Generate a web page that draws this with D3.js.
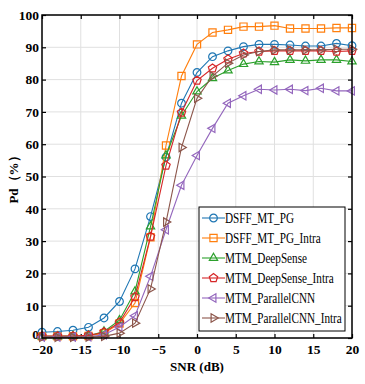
<!DOCTYPE html>
<html lang="en">
<head>
<meta charset="utf-8">
<title>Pd vs SNR</title>
<script src="https://d3js.org/d3.v7.min.js"></script>
<style type="text/css">
  body { margin: 0; background: white; }
  .tick text { font-family: "Liberation Serif", "Times New Roman", serif; font-weight: bold; font-size: 13.5px; fill: black; }
  .axisLabel { font-family: "Liberation Serif", "Times New Roman", serif; font-weight: bold; font-size: 13px; }
  .legendText { font-family: "Liberation Serif", "Times New Roman", serif; font-size: 14px; }
</style>
</head>
<body>
<svg></svg>
<script type="text/javascript">

const snr = [-20, -18, -16, -14, -12, -10, -8, -6, -4, -2, 0, 2, 4, 6, 8, 10, 12, 14, 16, 18, 20];

const dsffMtPg      = [1.8, 2.0, 2.4, 3.3, 6.2, 11.3, 21.4, 37.6, 56.0, 72.7, 82.2, 87.1, 88.9, 90.2, 90.9, 90.9, 90.7, 90.4, 90.4, 91.2, 90.5];
const dsffMtPgIntra = [0.5, 0.5, 0.5, 0.6, 1.5, 4.5, 10.8, 31.2, 59.6, 81.1, 90.9, 94.6, 95.4, 96.4, 96.4, 96.7, 95.8, 95.8, 95.8, 96.0, 96.0];
const mtmDeepSense  = [0.5, 0.5, 0.6, 0.7, 2.0, 5.5, 14.4, 34.5, 56.5, 68.8, 76.3, 80.4, 82.8, 84.8, 85.6, 85.4, 86.1, 85.8, 86.1, 86.1, 85.6];
const mtmDeepSenseIntra = [0.6, 0.6, 0.6, 0.8, 1.8, 4.8, 12.7, 31.4, 53.4, 69.8, 79.7, 83.5, 86.3, 88.1, 88.7, 88.9, 88.9, 88.9, 88.9, 88.7, 88.9];
const mtmParallelCnn = [0.3, 0.3, 0.3, 0.4, 1.0, 3.4, 6.9, 19.1, 33.5, 47.3, 56.5, 64.9, 72.7, 75.0, 77.0, 76.8, 77.0, 76.6, 77.3, 76.5, 76.5];
const mtmParallelCnnIntra = [0.2, 0.2, 0.2, 0.3, 0.5, 1.5, 4.6, 15.2, 35.9, 59.0, 74.2, 81.1, 85.1, 87.6, 88.7, 89.2, 89.2, 89.2, 89.2, 89.4, 89.4];

const seriesNames = ["DSFF_MT_PG", "DSFF_MT_PG_Intra", "MTM_DeepSense", "MTM_DeepSense_Intra", "MTM_ParallelCNN", "MTM_ParallelCNN_Intra"];
const xTicks = [-20, -15, -10, -5, 0, 5, 10, 15, 20];
const yTicks = [0, 10, 20, 30, 40, 50, 60, 70, 80, 90, 100];

const series = [
  {name: seriesNames[0], values: dsffMtPg, color: "#1f77b4", marker: "circle"},
  {name: seriesNames[1], values: dsffMtPgIntra, color: "#ff7f0e", marker: "square"},
  {name: seriesNames[2], values: mtmDeepSense, color: "#2ca02c", marker: "triUp"},
  {name: seriesNames[3], values: mtmDeepSenseIntra, color: "#d62728", marker: "pentagon"},
  {name: seriesNames[4], values: mtmParallelCnn, color: "#9467bd", marker: "triLeft"},
  {name: seriesNames[5], values: mtmParallelCnnIntra, color: "#8c564b", marker: "triRight"}
];

const width = 365, height = 384;
const margin = {top: 15, right: 13, bottom: 46, left: 42};
const w = width - margin.left - margin.right;
const h = height - margin.top - margin.bottom;

const svg = d3.select("svg").attr("width", width).attr("height", height);
const g = svg.append("g").attr("transform", "translate(" + margin.left + "," + margin.top + ")");

const x = d3.scaleLinear().domain([-20, 20]).range([0, w]);
const y = d3.scaleLinear().domain([0, 100]).range([h, 0]);

// grid
g.selectAll(".vgrid").data(xTicks).enter().append("line")
  .attr("x1", d => x(d)).attr("x2", d => x(d)).attr("y1", 0).attr("y2", h)
  .attr("stroke", "#e0e0e0").attr("stroke-width", 1);
g.selectAll(".hgrid").data(yTicks).enter().append("line")
  .attr("x1", 0).attr("x2", w).attr("y1", d => y(d)).attr("y2", d => y(d))
  .attr("stroke", "#e0e0e0").attr("stroke-width", 1);

// axes, inward ticks on all sides
g.append("g").attr("transform", "translate(0," + h + ")")
  .call(d3.axisBottom(x).tickValues(xTicks).tickSizeInner(-4).tickSizeOuter(0).tickPadding(6).tickFormat(d => d < 0 ? "\u2212" + Math.abs(d) : d));
g.append("g")
  .call(d3.axisLeft(y).tickValues(yTicks).tickSizeInner(-4).tickSizeOuter(0).tickPadding(3))
  .selectAll(".tick text").attr("dy", d => d === 0 ? "0.05em" : "0.32em");
g.append("g").call(d3.axisTop(x).tickValues(xTicks).tickSizeInner(-4).tickSizeOuter(0).tickFormat(""));
g.append("g").attr("transform", "translate(" + w + ",0)")
  .call(d3.axisRight(y).tickValues(yTicks).tickSizeInner(-4).tickSizeOuter(0).tickFormat(""));
g.selectAll(".domain").remove();
g.selectAll(".tick line").attr("stroke", "black").attr("stroke-width", 1.2);

const symbolPath = {
  circle: d3.symbol().type(d3.symbolCircle).size(46)(),
  square: d3.symbol().type(d3.symbolSquare).size(52)()
};
function polygon(n, r, rot) {
  const pts = d3.range(n).map(i => {
    const a = rot + i * 2 * Math.PI / n;
    return [r * Math.cos(a), r * Math.sin(a)];
  });
  return "M" + pts.join("L") + "Z";
}
symbolPath.pentagon = polygon(5, 4.4, -Math.PI / 2);
symbolPath.triLeft = polygon(3, 4.8, Math.PI);
symbolPath.triRight = polygon(3, 4.8, 0);
symbolPath.triUp = polygon(3, 4.8, -Math.PI / 2);

const line = d3.line().x((d, i) => x(snr[i])).y(d => y(d));

const plot = g.append("g");
series.forEach(s => {
  plot.append("path").datum(s.values)
    .attr("d", line).attr("fill", "none").attr("stroke", s.color).attr("stroke-width", 1.1);
  plot.selectAll(null).data(s.values).enter().append("path")
    .attr("d", symbolPath[s.marker])
    .attr("transform", (d, i) => "translate(" + x(snr[i]) + "," + y(d) + ")")
    .attr("fill", "none").attr("stroke", s.color).attr("stroke-width", 1.2);
});

// frame
g.append("rect").attr("width", w).attr("height", h)
  .attr("fill", "none").attr("stroke", "black").attr("stroke-width", 1.5);

// axis labels
svg.append("text").attr("class", "axisLabel")
  .attr("x", margin.left + w / 2).attr("y", 371).attr("text-anchor", "middle")
  .text("SNR (dB)");
svg.append("text").attr("class", "axisLabel")
  .attr("transform", "translate(18," + (margin.top + h / 2) + ") rotate(-90)")
  .attr("text-anchor", "middle")
  .text("Pd（%）");

// legend
const lg = svg.append("g").attr("transform", "translate(199,207)");
lg.append("rect").attr("width", 146).attr("height", 124)
  .attr("fill", "white").attr("stroke", "black").attr("stroke-width", 1);
const item = lg.selectAll(".item").data(series).enter().append("g")
  .attr("transform", (d, i) => "translate(0," + (11 + i * 20) + ")");
item.append("line").attr("x1", 3).attr("x2", 26).attr("y1", 0).attr("y2", 0)
  .attr("stroke", d => d.color).attr("stroke-width", 1.1);
item.append("path").attr("d", d => symbolPath[d.marker])
  .attr("transform", "translate(14.5,0)")
  .attr("fill", "none").attr("stroke", d => d.color).attr("stroke-width", 1.2);
item.append("text").attr("class", "legendText")
  .attr("transform", "translate(26,5) scale(0.8,1)")
  .text(d => d.name);

</script>
</body>
</html>
